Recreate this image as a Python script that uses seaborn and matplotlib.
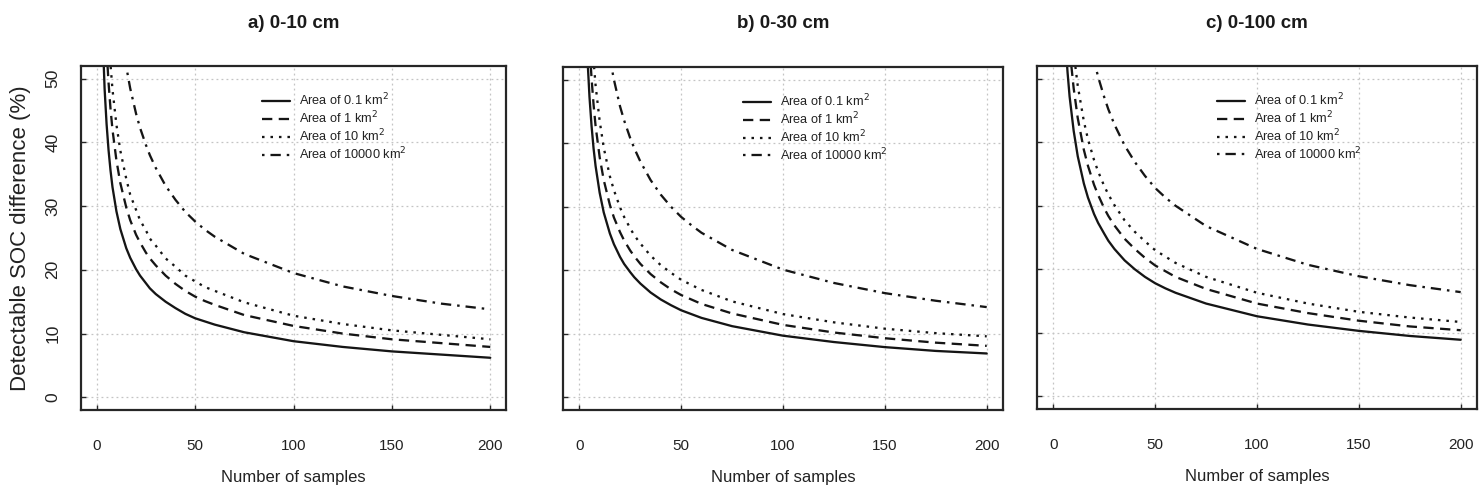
import numpy as np
import pandas as pd
import matplotlib
matplotlib.use('Agg')
import matplotlib.pyplot as plt
import seaborn as sns

sns.set_theme(style="white")
plt.rcParams['font.family'] = ['Liberation Sans', 'DejaVu Sans']

INK = '#151515'
FRAME = '#262626'
GRID = '#c4c4c4'

n_samples = [3, 4, 5, 6, 7, 8, 10, 12, 15, 17, 20, 22, 25, 27, 30, 35, 40, 45,
             50, 55, 60, 75, 100, 125, 150, 175, 200]

areas = ['Area of 0.1 km$^2$', 'Area of 1 km$^2$', 'Area of 10 km$^2$', 'Area of 10000 km$^2$']
panel_titles = ['a) 0-10 cm', 'b) 0-30 cm', 'c) 0-100 cm']

# a) 0-10 cm
a_01 = [56.9, 48.4, 42.9, 38.8, 35.6, 33.0, 29.2, 26.4, 23.4, 21.9, 20.1, 19.1, 17.9, 17.1, 16.2, 15.0, 14.0, 13.1,
        12.4, 11.9, 11.4, 10.2, 8.8, 7.9, 7.2, 6.7, 6.2]
a_1 = [72.4, 61.6, 54.6, 49.4, 45.3, 42.0, 37.2, 33.6, 29.8, 27.8, 25.5, 24.3, 22.7, 21.8, 20.7, 19.1, 17.8, 16.7,
       15.8, 15.1, 14.5, 12.9, 11.2, 10.0, 9.1, 8.5, 7.9]
a_10 = [83.4, 71.0, 62.9, 56.9, 52.2, 48.3, 42.8, 38.7, 34.3, 31.8, 29.4, 27.8, 26.2, 24.9, 23.8, 21.8, 20.5, 19.1,
        18.2, 17.3, 16.7, 14.9, 12.8, 11.5, 10.5, 9.8, 9.1]
a_10000 = [126.1, 107.3, 95.0, 86.0, 78.9, 73.1, 64.7, 58.5, 51.9, 48.5, 44.5, 42.3, 39.6, 38.0, 36.0, 33.2, 31.0, 29.1,
           27.6, 26.3, 25.2, 22.5, 19.5, 17.4, 15.9, 14.7, 13.8]

# b) 0-30 cm
b_01 = [62.7, 53.4, 47.3, 42.8, 39.2, 36.4, 32.2, 29.1, 25.8, 24.1, 22.1, 21.0, 19.7, 18.9, 17.9, 16.5, 15.4, 14.5,
        13.7, 13.1, 12.5, 11.2, 9.7, 8.7, 7.9, 7.3, 6.9]
b_1 = [73.7, 62.7, 55.6, 50.3, 46.1, 42.7, 37.8, 34.2, 30.3, 28.3, 26.0, 24.7, 23.1, 22.2, 21.0, 19.4, 18.1, 17.0,
       16.1, 15.4, 14.7, 13.2, 11.4, 10.2, 9.3, 8.6, 8.1]
b_10 = [84.7, 72.1, 63.8, 57.8, 53.0, 49.1, 43.5, 39.3, 34.8, 32.6, 29.9, 28.4, 26.6, 25.5, 24.2, 22.3, 20.8, 19.6,
        18.5, 17.7, 16.9, 15.1, 13.1, 11.8, 10.8, 10.1, 9.6]
b_10000 = [130.0, 110.6, 98.0, 88.6, 81.3, 75.3, 66.7, 60.3, 53.4, 50.0, 45.8, 43.6, 40.8, 39.2, 37.1, 34.2, 31.9, 30.0,
           28.4, 27.1, 25.9, 23.2, 20.1, 18.0, 16.4, 15.2, 14.2]

# c) 0-100 cm
c_01 = [81.5, 69.3, 61.4, 55.6, 51.0, 47.2, 41.8, 37.8, 33.5, 31.3, 28.7, 27.3, 25.6, 24.5, 23.2, 21.4, 20.0, 18.8,
        17.8, 17.0, 16.3, 14.6, 12.6, 11.3, 10.3, 9.5, 8.9]
c_1 = [94.4, 80.3, 71.2, 64.4, 59.1, 54.7, 48.5, 43.8, 38.8, 36.3, 33.3, 31.7, 29.6, 28.4, 26.9, 24.8, 23.2, 21.8,
       20.6, 19.7, 18.8, 16.9, 14.6, 13.1, 11.9, 11.0, 10.4]
c_10 = [105.4, 89.7, 79.4, 71.9, 65.9, 61.1, 54.1, 48.9, 43.3, 40.5, 37.2, 35.4, 33.1, 31.8, 30.1, 27.7, 25.9, 24.4,
        23.0, 22.0, 21.0, 18.8, 16.3, 14.6, 13.3, 12.4, 11.7]
c_10000 = [150.0, 127.6, 113.1, 102.3, 93.8, 87.0, 77.0, 69.6, 61.7, 57.7, 52.9, 50.3, 47.1, 45.2, 42.8, 39.5, 36.9, 34.7,
           32.8, 31.3, 30.0, 26.8, 23.2, 20.7, 18.9, 17.5, 16.4]

panels = [[a_01, a_1, a_10, a_10000],
          [b_01, b_1, b_10, b_10000],
          [c_01, c_1, c_10, c_10000]]

line_styles = ['-', (0, (4.5, 2.8)), (0, (1.1, 2.6)), (0, (1.1, 2.6, 4.5, 2.6))]

W, H = 1484, 499
# axes boxes in pixels: left, right, top, bottom
boxes = [(81, 506, 66, 410), (563, 1003, 67, 410), (1037, 1477, 66, 409)]
legend_x = [0.426, 0.409, 0.409]

fig = plt.figure(figsize=(W / 100, H / 100), dpi=100)
fig.patch.set_facecolor('white')

for i, (l, r, t, b) in enumerate(boxes):
    ax = fig.add_axes([l / W, 1 - b / H, (r - l) / W, (b - t) / H])
    ax.set_facecolor('white')
    for vals, ls, lab in zip(panels[i], line_styles, areas):
        df = pd.DataFrame({'n': n_samples, 'v': vals})
        sns.lineplot(data=df, x='n', y='v', ax=ax, color=INK, lw=1.65,
                     linestyle=ls, label=lab)
    ax.set_xlim(-8, 208)
    ax.set_ylim(-2, 52)
    ax.set_xticks([0, 50, 100, 150, 200])
    ax.set_yticks([0, 10, 20, 30, 40, 50])
    ax.grid(True, color=GRID, linestyle=(0, (1.5, 2.5)), lw=0.9)
    for spine in ax.spines.values():
        spine.set_edgecolor(FRAME)
        spine.set_linewidth(1.6)
    ax.tick_params(axis='both', direction='in', length=3.5, width=1, color=FRAME,
                   left=True, bottom=True)
    ax.tick_params(axis='x', pad=21, labelsize=11, labelcolor='#222222')
    ax.set_xlabel('Number of samples', fontsize=12, color='#222222', labelpad=12)
    if i == 0:
        ax.tick_params(axis='y', pad=15, labelsize=12.5, labelcolor='#222222',
                       labelrotation=90)
        for lbl in ax.get_yticklabels():
            lbl.set_va('center')
        ax.set_ylabel('Detectable SOC difference (%)', fontsize=16,
                      color='#222222', labelpad=10)
    else:
        ax.set_yticklabels([])
        ax.set_ylabel('')
    leg = ax.legend(loc='upper left', bbox_to_anchor=(legend_x[i], 0.925),
                    frameon=False, fontsize=9.2, handlelength=2.2,
                    handletextpad=0.7, labelspacing=0.1, borderpad=0,
                    borderaxespad=0)
    for txt in leg.get_texts():
        txt.set_color('#222222')
    fig.text((l + r) / 2 / W, 1 - 23 / H, panel_titles[i], ha='center',
             va='center', fontsize=13.5, fontweight='bold', color='#1a1a1a')

plt.savefig('out.png', dpi=100, facecolor='white')
plt.close()
